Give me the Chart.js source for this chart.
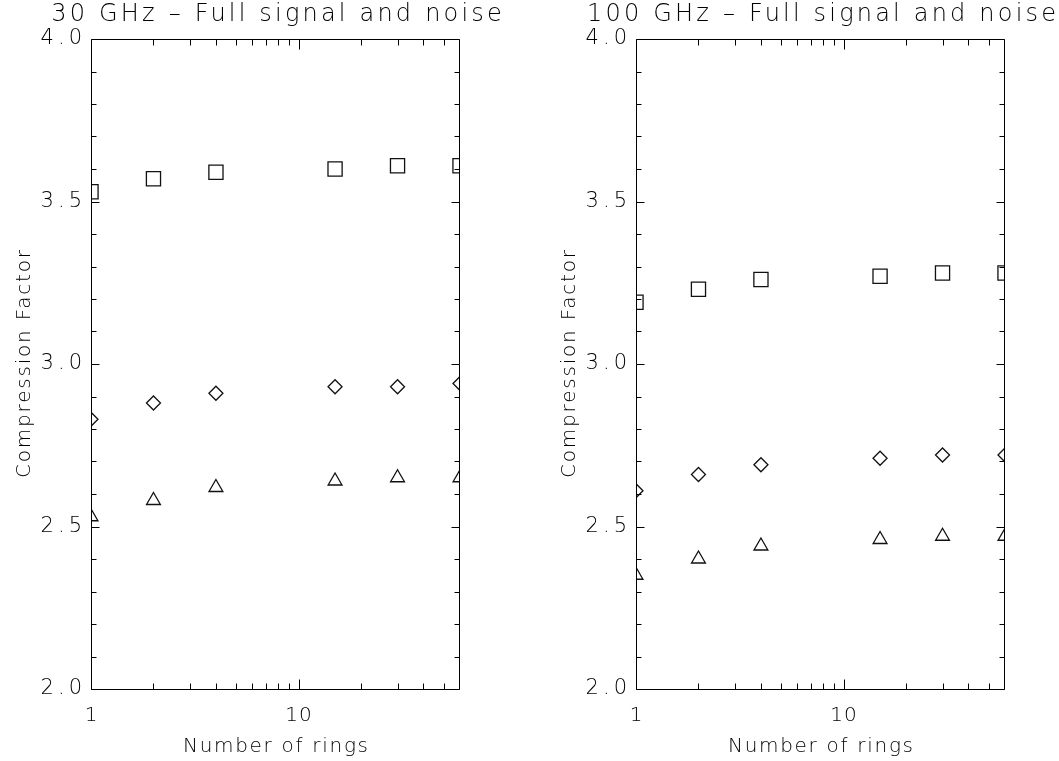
<!DOCTYPE html>
<html>
<head>
<meta charset="utf-8">
<script src="https://cdn.jsdelivr.net/npm/chart.js@4"></script>
<style>
  body { margin: 0; background: #fff; }
  #wrap { position: relative; width: 1059px; height: 761px; }
  canvas { position: absolute; top: 0; }
</style>
</head>
<body>
<div id="wrap">
  <canvas id="left" width="545" height="761" style="left:0"></canvas>
  <canvas id="right" width="514" height="761" style="left:545px"></canvas>
</div>
<script>
'use strict';

// Number of rings (x values, log axis)
let rings = [1, 2, 4, 15, 30, 60];

// 30 GHz panel
let squares30 = [3.53, 3.57, 3.59, 3.60, 3.61, 3.61];
let diamonds30 = [2.83, 2.88, 2.91, 2.93, 2.93, 2.94];
let triangles30 = [2.53, 2.58, 2.62, 2.64, 2.65, 2.65];

// 100 GHz panel
let squares100 = [3.19, 3.23, 3.26, 3.27, 3.28, 3.28];
let diamonds100 = [2.61, 2.66, 2.69, 2.71, 2.72, 2.72];
let triangles100 = [2.35, 2.40, 2.44, 2.46, 2.47, 2.47];

// Tick labels
let yTicks = [2.0, 2.5, 3.0, 3.5, 4.0];
let xTicks = [1, 10];
let xMinorTicks = [2, 3, 4, 5, 6, 7, 8, 9, 20, 30, 40, 50];

const FONT = '"DejaVu Sans", sans-serif';

function drawText(ctx, text, x, y, size, spacing, align, baseline) {
  ctx.font = '200 ' + size + 'px ' + FONT;
  ctx.letterSpacing = spacing + 'px';
  ctx.textAlign = align;
  ctx.textBaseline = baseline;
  // letterSpacing adds a gap after the last glyph too
  if (align === 'center') x += spacing / 2;
  if (align === 'right') x += spacing;
  ctx.fillText(text, x, y);
}

// Box, inward ticks and all the text
const framePlugin = {
  id: 'frame',
  afterDraw(chart, args, opts) {
    const ctx = chart.ctx;
    const a = chart.chartArea;
    const xs = chart.scales.x;
    const ys = chart.scales.y;
    const l = a.left + 0.5, r = a.right - 0.5, t = a.top + 0.5, b = a.bottom + 0.5;

    ctx.save();
    ctx.strokeStyle = '#000';
    ctx.lineWidth = 1;
    ctx.beginPath();
    ctx.rect(l, t, r - l, b - t);

    // y ticks, both sides
    for (let v = 20; v <= 40; v++) {
      const py = Math.round(ys.getPixelForValue(v / 10)) + 0.5;
      const len = v % 5 === 0 ? 8 : 5;
      ctx.moveTo(l, py); ctx.lineTo(l + len, py);
      ctx.moveTo(r, py); ctx.lineTo(r - len, py);
    }
    // x ticks, top and bottom
    xTicks.concat(xMinorTicks).forEach(function (v) {
      const px = Math.round(xs.getPixelForValue(v)) + 0.5;
      const len = xTicks.includes(v) ? 10 : 6;
      ctx.moveTo(px, b); ctx.lineTo(px, b - len);
      ctx.moveTo(px, t); ctx.lineTo(px, t + len);
    });
    ctx.stroke();

    ctx.fillStyle = '#000';
    yTicks.forEach(function (v) {
      drawText(ctx, v.toFixed(1), a.left - 9, ys.getPixelForValue(v), 21, 4, 'right', 'middle');
    });
    xTicks.forEach(function (v) {
      drawText(ctx, String(v), xs.getPixelForValue(v), a.bottom + 27, 20, 1, 'center', 'middle');
    });

    const cx = (a.left + a.right) / 2;
    drawText(ctx, 'Number of rings', cx, 752, 20, 1.7, 'center', 'alphabetic');
    drawText(ctx, opts.title, cx + 1, 21, 24, 3.2, 'center', 'alphabetic');

    ctx.translate(25, (a.top + a.bottom) / 2);
    ctx.rotate(-Math.PI / 2);
    drawText(ctx, 'Compression Factor', 0, 0, 20, 1.8, 'center', 'middle');
    ctx.restore();
  }
};

function makeDataset(values, style, radius) {
  return {
    data: rings.map(function (x, i) { return { x: x, y: values[i] }; }),
    pointStyle: style,
    pointRadius: radius,
    pointHoverRadius: radius,
    pointBackgroundColor: 'rgba(0,0,0,0)',
    pointBorderColor: '#111',
    pointBorderWidth: 1.3,
    showLine: false,
    clip: 0
  };
}

function makeChart(id, title, squares, diamonds, triangles, rightPad) {
  return new Chart(document.getElementById(id), {
    type: 'scatter',
    data: {
      datasets: [
        makeDataset(squares, 'rect', 10),
        makeDataset(diamonds, 'rectRot', 7),
        makeDataset(triangles, 'triangle', 8)
      ]
    },
    options: {
      responsive: false,
      animation: false,
      layout: { padding: { left: 91, top: 39, right: rightPad, bottom: 72 } },
      scales: {
        x: { type: 'logarithmic', min: 1, max: 60, display: false },
        y: { type: 'linear', min: 2.0, max: 4.0, display: false }
      },
      plugins: {
        legend: { display: false },
        tooltip: { enabled: false },
        frame: { title: title }
      }
    },
    plugins: [framePlugin]
  });
}

makeChart('left', '30 GHz – Full signal and noise', squares30, diamonds30, triangles30, 85);
makeChart('right', '100 GHz – Full signal and noise', squares100, diamonds100, triangles100, 54);
</script>
</body>
</html>
